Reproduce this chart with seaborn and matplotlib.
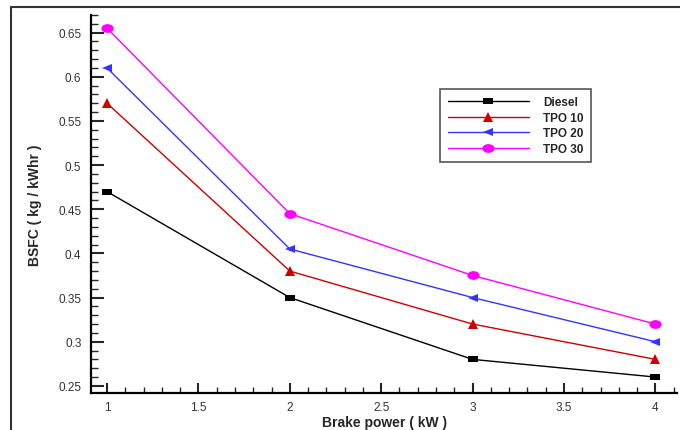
import pandas as pd
import matplotlib.pyplot as plt
import seaborn as sns
from matplotlib.ticker import MultipleLocator, FuncFormatter
from matplotlib.lines import Line2D
from matplotlib.markers import MarkerStyle
from matplotlib.transforms import Affine2D

# Datos
potencia = [1, 2, 3, 4]
diesel = [0.47, 0.35, 0.28, 0.26]
tpo10 = [0.57, 0.38, 0.32, 0.28]
tpo20 = [0.61, 0.405, 0.35, 0.30]
tpo30 = [0.655, 0.445, 0.375, 0.32]
series = ['Diesel', 'TPO 10', 'TPO 20', 'TPO 30']

df = pd.DataFrame({
    'potencia': potencia * 4,
    'bsfc': diesel + tpo10 + tpo20 + tpo30,
    'combustible': [s for s in series for _ in potencia],
})

sns.set_style('ticks')
plt.rcParams['font.family'] = ['Liberation Sans', 'DejaVu Sans']

colores = {'Diesel': '#000000', 'TPO 10': '#cc0000', 'TPO 20': '#3333ff', 'TPO 30': '#ff00ff'}
marcas = {'Diesel': 's', 'TPO 10': '^', 'TPO 20': '<', 'TPO 30': 'o'}

fig = plt.figure(figsize=(6.8, 4.31), dpi=100)
ax = fig.add_axes([0.134, 0.086, 0.862, 0.877])

sns.lineplot(data=df, x='potencia', y='bsfc', hue='combustible', style='combustible',
             palette=colores, markers=marcas, dashes=False, markersize=5,
             markeredgewidth=0, linewidth=1, ax=ax)

# marcadores algo estirados en horizontal, como en la original
estilo = {'s': (1.6, 4.3), '^': (1.15, 6.6), '<': (1.15, 6.4), 'o': (1.4, 6.3)}
for ln in ax.lines:
    m = ln.get_marker()
    if m in estilo:
        sx, ms = estilo[m]
        ln.set_marker(MarkerStyle(m, transform=Affine2D().scale(sx, 1)))
        ln.set_markersize(ms)

ax.set_xlim(0.913, 4.12)
ax.set_ylim(0.242, 0.670)
ax.xaxis.set_major_locator(MultipleLocator(0.5))
ax.xaxis.set_minor_locator(MultipleLocator(0.1))
ax.yaxis.set_major_locator(MultipleLocator(0.05))
ax.yaxis.set_minor_locator(MultipleLocator(0.01))
fmt = FuncFormatter(lambda v, p: f'{v:g}')
ax.xaxis.set_major_formatter(fmt)
ax.yaxis.set_major_formatter(fmt)

ax.tick_params(axis='y', which='major', direction='in', length=9, width=1.5,
               labelsize=8.5, labelcolor='#333333', pad=7)
ax.tick_params(axis='y', which='minor', direction='in', length=5, width=1)
ax.tick_params(axis='x', which='major', direction='in', length=7, width=1.5,
               labelsize=8.5, labelcolor='#333333', pad=6)
ax.tick_params(axis='x', which='minor', direction='in', length=4, width=1)

for lado in ['top', 'right']:
    ax.spines[lado].set_visible(False)
for lado in ['left', 'bottom']:
    ax.spines[lado].set_linewidth(1.6)
    ax.spines[lado].set_color('black')

ax.set_xlabel('Brake power ( kW )', fontsize=10, fontweight='bold', labelpad=1)
ax.set_ylabel('BSFC ( kg / kWhr )', fontsize=10, fontweight='bold', labelpad=12)

leg = ax.legend(loc='upper left', bbox_to_anchor=(0.596, 0.804), borderaxespad=0,
                frameon=True, fancybox=False, edgecolor='#555555', framealpha=1,
                prop={'weight': 'bold', 'size': 8.5}, handlelength=6.9,
                borderpad=0.6, labelspacing=0.3, handletextpad=1.2)
leg.get_frame().set_linewidth(1.2)

# marco exterior de la figura
fig.add_artist(Line2D([11 / 680, 11 / 680], [0, 1 - 8 / 431], color='#333333', lw=1.5))
fig.add_artist(Line2D([11 / 680, 1], [1 - 8 / 431, 1 - 8 / 431], color='#333333', lw=1.5))

plt.savefig('out.png', dpi=100)
